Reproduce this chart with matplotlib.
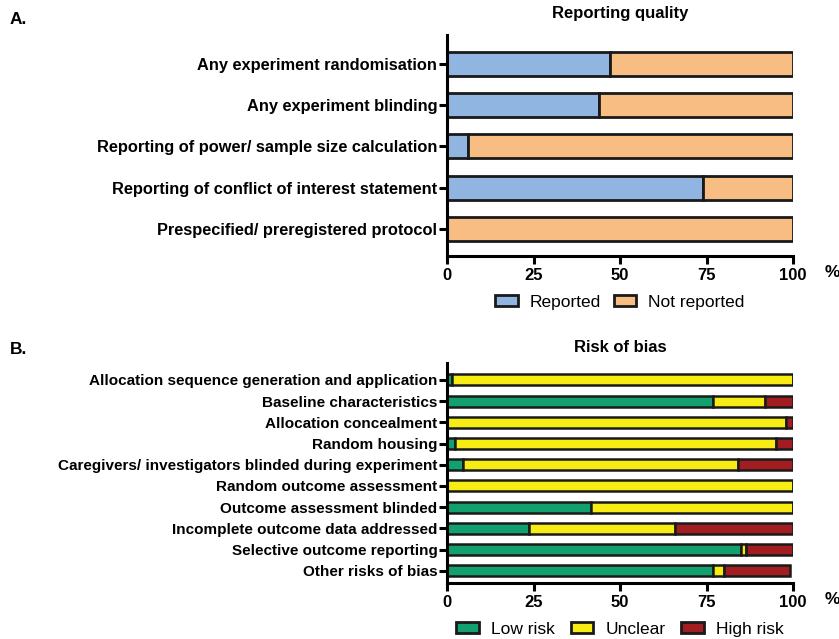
import matplotlib
matplotlib.use("Agg")
import matplotlib.pyplot as plt
import numpy as np
from matplotlib.patches import Patch

plt.rcParams['font.family'] = ['Liberation Sans', 'DejaVu Sans']

# Panel A data
rq_categories = ["Any experiment randomisation",
                 "Any experiment blinding",
                 "Reporting of power/ sample size calculation",
                 "Reporting of conflict of interest statement",
                 "Prespecified/ preregistered protocol"]
rq_reported = [47, 44, 6, 74, 0]
rq_not_reported = [53, 56, 94, 26, 100]

# Panel B data
rob_categories = ["Allocation sequence generation and application",
                  "Baseline characteristics",
                  "Allocation concealment",
                  "Random housing",
                  "Caregivers/ investigators blinded during experiment",
                  "Random outcome assessment",
                  "Outcome assessment blinded",
                  "Incomplete outcome data addressed",
                  "Selective outcome reporting",
                  "Other risks of bias"]
rob_low = [1.5, 77, 0, 2.3, 4.5, 0, 41.7, 23.6, 85, 77]
rob_unclear = [98.5, 15, 98, 92.7, 79.5, 100, 58.3, 42.2, 1.5, 3]
rob_high = [0, 8, 2, 5, 16, 0, 0, 34.2, 13.5, 19]

xticks = [0, 25, 50, 75, 100]

c_blue = "#8fb5e0"
c_orange = "#f8bd82"
c_green = "#12a06e"
c_yellow = "#f7ec14"
c_red = "#a21d22"
edge = "#1a1a1a"

fig = plt.figure(figsize=(8.39, 6.39), dpi=100)

W = 839.0
H = 639.0


def style_axis(ax):
    for s in ['top', 'right']:
        ax.spines[s].set_visible(False)
    for s in ['left', 'bottom']:
        ax.spines[s].set_linewidth(2.2)
    ax.set_xlim(0, 100)
    ax.set_xticks(xticks)
    ax.set_xticklabels([str(t) for t in xticks], fontsize=12, fontweight='bold')
    ax.tick_params(axis='x', length=5.5, width=2.2, pad=3)
    ax.tick_params(axis='y', length=6, width=2.2, pad=1)
    ax.annotate("%", xy=(1.0, 0), xycoords='axes fraction',
                xytext=(28, -12), textcoords='offset points',
                fontsize=12.5, fontweight='bold', ha='center', va='center')


# ---------- Panel A ----------
axA = fig.add_axes([447 / W, 1 - 256 / H, 346 / W, 221 / H])
yA = np.arange(len(rq_categories))
axA.barh(yA, rq_reported, height=0.58, color=c_blue, edgecolor=edge, linewidth=2)
axA.barh(yA, rq_not_reported, left=rq_reported, height=0.58, color=c_orange,
         edgecolor=edge, linewidth=2)
axA.set_ylim(4.66, -0.70)
axA.set_yticks(yA)
axA.set_yticklabels(rq_categories, fontsize=11.8, fontweight='bold')
style_axis(axA)
axA.set_title("Reporting quality", fontsize=12, fontweight='bold', pad=12)
axA.legend(handles=[Patch(facecolor=c_blue, edgecolor=edge, linewidth=2, label="Reported"),
                    Patch(facecolor=c_orange, edgecolor=edge, linewidth=2, label="Not reported")],
           loc='upper center', bbox_to_anchor=(0.5, -0.105), ncol=2, frameon=False,
           fontsize=12.5, handlelength=1.3, handleheight=0.55, columnspacing=0.7,
           handletextpad=0.7)
fig.text(10 / W, 1 - 20 / H, "A.", fontsize=12.5, fontweight='bold', va='center')

# ---------- Panel B ----------
axB = fig.add_axes([447 / W, 1 - 583 / H, 346 / W, 220 / H])
yB = np.arange(len(rob_categories))
left2 = [a + b for a, b in zip(rob_low, rob_unclear)]
axB.barh(yB, rob_low, height=0.52, color=c_green, edgecolor=edge, linewidth=1.8)
axB.barh(yB, rob_unclear, left=rob_low, height=0.52, color=c_yellow,
         edgecolor=edge, linewidth=1.8)
axB.barh(yB, rob_high, left=left2, height=0.52, color=c_red,
         edgecolor=edge, linewidth=1.8)
axB.set_ylim(9.58, -0.80)
axB.set_yticks(yB)
axB.set_yticklabels(rob_categories, fontsize=10.95, fontweight='bold')
style_axis(axB)
axB.set_title("Risk of bias", fontsize=12, fontweight='bold', pad=8)
axB.legend(handles=[Patch(facecolor=c_green, edgecolor=edge, linewidth=2, label="Low risk"),
                    Patch(facecolor=c_yellow, edgecolor=edge, linewidth=2, label="Unclear"),
                    Patch(facecolor=c_red, edgecolor=edge, linewidth=2, label="High risk")],
           loc='upper center', bbox_to_anchor=(0.5, -0.105), ncol=3, frameon=False,
           fontsize=12.5, handlelength=1.3, handleheight=0.55, columnspacing=0.9,
           handletextpad=0.7)
fig.text(10 / W, 1 - 350 / H, "B.", fontsize=12.5, fontweight='bold', va='center')

fig.savefig("out.png", dpi=100)
